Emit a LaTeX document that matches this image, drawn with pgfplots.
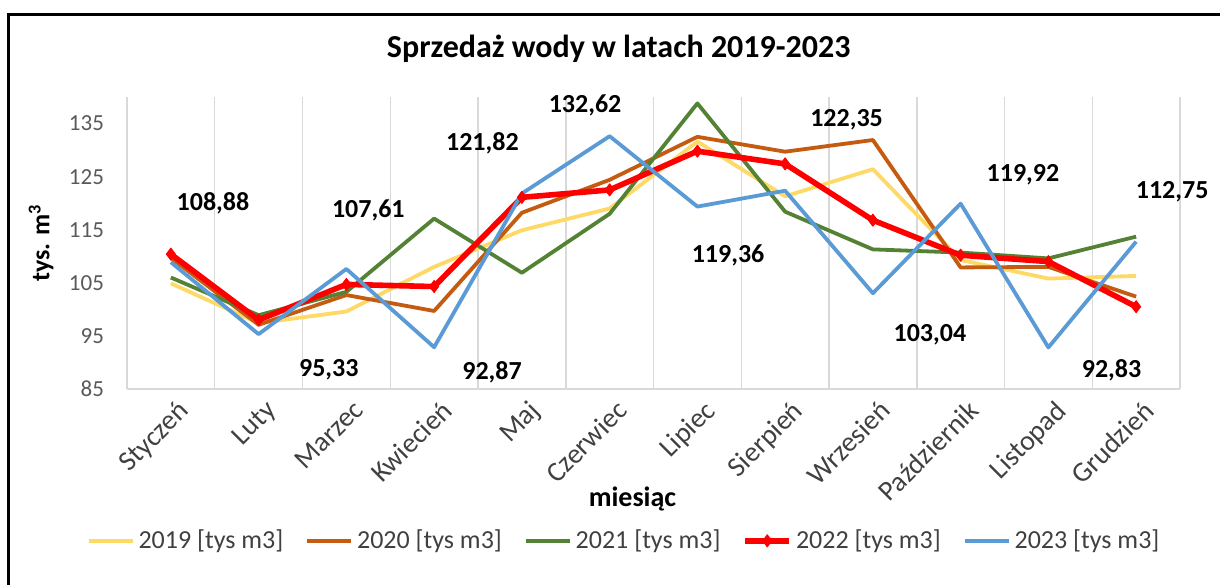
\documentclass[border=0pt]{standalone}
\usepackage{fontspec}
\setmainfont{Carlito}
\usepackage{pgfplots}
\pgfplotsset{compat=1.18}
\definecolor{c19}{HTML}{FFD966}
\definecolor{c20}{HTML}{C55A11}
\definecolor{c21}{HTML}{548235}
\definecolor{c22}{HTML}{FF0000}
\definecolor{c23}{HTML}{5B9BD5}
\definecolor{txt}{HTML}{595959}
\definecolor{legtxt}{HTML}{404040}
\definecolor{gridc}{HTML}{D9D9D9}
\begin{document}
\begin{tikzpicture}
\path[use as bounding box] (-63.5pt,-97.5pt) rectangle (546.5pt,194.5pt);
\draw[line width=1.5pt] (-59.2pt,-120pt) -- (-59.2pt,187.2pt) -- (570pt,187.2pt);
\begin{axis}[
  at={(0pt,0pt)}, anchor=south west,
  scale only axis, width=526.5pt, height=146pt,
  xmin=-0.5, xmax=11.5, ymin=85, ymax=140,
  xtick={0,...,11},
  xticklabels={Styczeń,Luty,Marzec,Kwiecień,Maj,Czerwiec,Lipiec,Sierpień,Wrzesień,Październik,Listopad,Grudzień},
  minor xtick={-0.5,0.5,...,11.5},
  xminorgrids, minor grid style={gridc, line width=0.75pt},
  major tick length=0pt, minor tick length=0pt,
  ytick={85,95,...,135},
  axis x line*=bottom, axis y line*=left,
  x axis line style={gridc, line width=0.75pt, -},
  y axis line style={draw=none},
  /pgf/number format/assume math mode=true,
  yticklabel style={font=\fontsize{11.5}{13}\selectfont, text=txt, xshift=-8pt},
  xticklabel style={rotate=45, anchor=north east, font=\fontsize{14}{16}\selectfont, text=legtxt, yshift=-2pt, xshift=2pt},
  xlabel={\textbf{miesiąc}},
  xlabel style={at={(axis description cs:0.48,-0.375)}, anchor=center, font=\fontsize{14}{16}\selectfont},
  ylabel={\textbf{tys. m\textsuperscript{3}}},
  ylabel style={at={(axis description cs:-0.0817,0.5)}, anchor=center, font=\fontsize{13}{15}\selectfont},
  clip=false,
  legend columns=5,
  legend style={at={(axis description cs:0.473,-0.52)}, anchor=center, draw=none, fill=none,
    font=\fontsize{13}{15}\selectfont, text=legtxt,
    /tikz/every even column/.append style={column sep=9pt}},
  legend image code/.code={\draw[mark repeat=2,mark phase=2,#1] plot coordinates {(0pt,0pt) (11pt,0pt) (22pt,0pt)};},
  every axis plot/.append style={line join=round},
]
\addplot[c19, line width=1.9pt] coordinates {(0,104.9)(1,97.4)(2,99.6)(3,108.0)(4,114.9)(5,119.0)(6,131.6)(7,121.3)(8,126.4)(9,109.3)(10,105.8)(11,106.3)};
\addlegendentry{2019 [tys m3]}
\addplot[c20, line width=1.9pt] coordinates {(0,109.7)(1,97.1)(2,102.7)(3,99.7)(4,118.2)(5,124.4)(6,132.5)(7,129.7)(8,131.9)(9,107.9)(10,108.0)(11,102.4)};
\addlegendentry{2020 [tys m3]}
\addplot[c21, line width=1.9pt] coordinates {(0,106.0)(1,98.9)(2,103.3)(3,117.1)(4,106.9)(5,118.0)(6,138.8)(7,118.4)(8,111.3)(9,110.7)(10,109.6)(11,113.7)};
\addlegendentry{2021 [tys m3]}
\addplot[c22, line width=2.8pt, mark=diamond*, mark size=3pt, mark options={solid, line width=0.5pt}] coordinates {(0,110.4)(1,98.0)(2,104.7)(3,104.3)(4,121.1)(5,122.5)(6,129.8)(7,127.4)(8,116.8)(9,110.2)(10,109.0)(11,100.5)};
\addlegendentry{2022 [tys m3]}
\addplot[c23, line width=1.9pt] coordinates {(0,108.88)(1,95.33)(2,107.61)(3,92.87)(4,121.82)(5,132.62)(6,119.36)(7,122.35)(8,103.04)(9,119.92)(10,92.83)(11,112.75)};
\addlegendentry{2023 [tys m3]}
\node[font=\fontsize{16}{19}\selectfont\bfseries] at (axis description cs:0.467,1.165) {Sprzedaż wody w latach 2019-2023};
\begin{scope}[every node/.style={font=\fontsize{13}{15}\selectfont\bfseries, text=black}]
\node at (axis cs:0.48,120.0) {108,88};
\node at (axis cs:1.80,88.6) {95,33};
\node at (axis cs:2.25,118.7) {107,61};
\node at (axis cs:3.66,88.2) {92,87};
\node at (axis cs:3.55,131.3) {121,82};
\node at (axis cs:4.72,138.5) {132,62};
\node at (axis cs:6.35,110.2) {119,36};
\node at (axis cs:7.70,135.7) {122,35};
\node at (axis cs:8.65,95.2) {103,04};
\node at (axis cs:9.71,125.3) {119,92};
\node at (axis cs:11.41,122.1) {112,75};
\node at (axis cs:10.72,88.6) {92,83};
\end{scope}
\end{axis}
\end{tikzpicture}
\end{document}
